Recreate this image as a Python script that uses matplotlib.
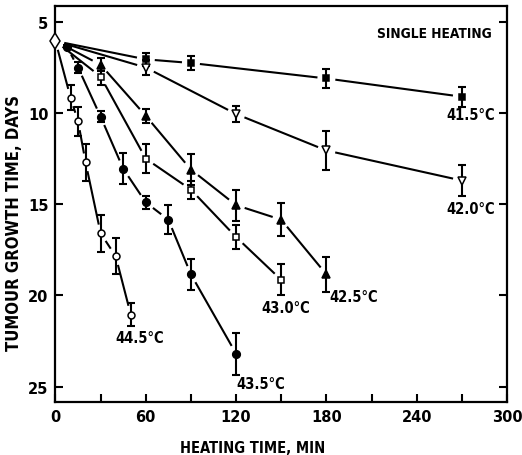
import matplotlib
matplotlib.use('Agg')
import matplotlib.pyplot as plt
import numpy as np

# ---- data ----
origin_t, origin_y = 0, 6.05

t415 = [60, 90, 180, 270]
y415 = [7.05, 7.25, 8.1, 9.1]
e415 = [0.35, 0.4, 0.5, 0.55]

t420 = [60, 120, 180, 270]
y420 = [7.5, 10.05, 12.05, 13.7]
e420 = [0.4, 0.45, 1.05, 0.85]

t425 = [30, 60, 90, 120, 150, 180]
y425 = [7.35, 10.15, 13.1, 15.05, 15.85, 18.85]
e425 = [0.35, 0.4, 0.85, 0.85, 0.9, 0.95]

t430 = [30, 60, 90, 120, 150]
y430 = [8.0, 12.5, 14.2, 16.8, 19.15]
e430 = [0.45, 0.8, 0.5, 0.65, 0.85]

t435 = [7.5, 15, 30, 45, 60, 75, 90, 120]
y435 = [6.35, 7.5, 10.2, 13.05, 14.9, 15.85, 18.85, 23.2]
e435 = [0.1, 0.28, 0.3, 0.85, 0.35, 0.8, 0.85, 1.15]

t445 = [10, 15, 20, 30, 40, 50]
y445 = [9.15, 10.45, 12.7, 16.6, 17.85, 21.05]
e445 = [0.7, 0.8, 1.0, 1.0, 1.0, 0.65]

temps = ['41.5°C', '42.0°C', '42.5°C', '43.0°C', '43.5°C', '44.5°C']

COND = dict(fontweight='bold', fontstretch='condensed')

fig = plt.figure(figsize=(5.22, 4.56), dpi=100)
ax = fig.add_axes([0.1063, 0.1162, 0.8650, 0.8674])
ax.set_xlim(0, 300)
ax.set_ylim(25.85, 4.15)
ax.set_xticks(np.arange(0, 301, 60))
ax.set_xticks(np.arange(0, 301, 30), minor=True)
ax.set_yticks([5, 10, 15, 20, 25])
ax.tick_params(which='both', direction='in', length=6, width=1.5, right=True, top=False,
               labelsize=10.5, pad=5)
for s in ax.spines.values():
    s.set_linewidth(1.6)
for lbl in ax.get_xticklabels() + ax.get_yticklabels():
    lbl.set_fontweight('bold')

ax.set_xlabel('HEATING TIME, MIN', fontsize=10.5, **COND)
ax.xaxis.set_label_coords(0.437, -0.097)
ax.set_ylabel('TUMOUR GROWTH TIME, DAYS', fontsize=12, **COND)
ax.yaxis.set_label_coords(-0.072, 0.455)


def gapped_line(xs, ys, gap=9):
    pts = ax.transData.transform(np.column_stack([xs, ys]))
    inv = ax.transData.inverted()
    for p, q in zip(pts[:-1], pts[1:]):
        d = q - p
        L = np.hypot(*d)
        if L <= 2 * gap + 2:
            continue
        u = d / L
        a, b = inv.transform([p + u * gap, q - u * gap])
        ax.plot([a[0], b[0]], [a[1], b[1]], color='k', lw=1.5, solid_capstyle='butt', zorder=2)


series = [
    (t415, y415, e415, 's', 'k', 5),
    (t420, y420, e420, 'v', 'white', 6),
    (t425, y425, e425, '^', 'k', 6),
    (t430, y430, e430, 's', 'white', 5),
    (t435, y435, e435, 'o', 'k', 5.5),
    (t445, y445, e445, 'o', 'white', 5),
]

for t, y, e, m, fc, ms in series:
    gapped_line([origin_t] + t, [origin_y] + y)
    ax.errorbar(t, y, yerr=e, fmt='none', ecolor='k', elinewidth=1.5, capsize=3,
                capthick=1.5, zorder=3)
    ax.plot(t, y, ls='none', marker=m, mfc=fc, mec='k', ms=ms, mew=1.1, zorder=4)

ax.plot([origin_t], [origin_y], ls='none', marker='d', mfc='white', mec='k', ms=8, mew=1.1,
        zorder=4, clip_on=False)

label_pos = [(260, 10.1), (260, 15.25), (182, 20.08), (137, 20.66), (120, 24.82), (39.5, 22.3)]
for txt, (lx, ly) in zip(temps, label_pos):
    ax.text(lx, ly, txt, fontsize=10.5, ha='left', va='center', **COND)

ax.text(290, 5.6, 'SINGLE HEATING', fontsize=9.8, ha='right', va='center', **COND)

fig.savefig('out.png', dpi=100)
